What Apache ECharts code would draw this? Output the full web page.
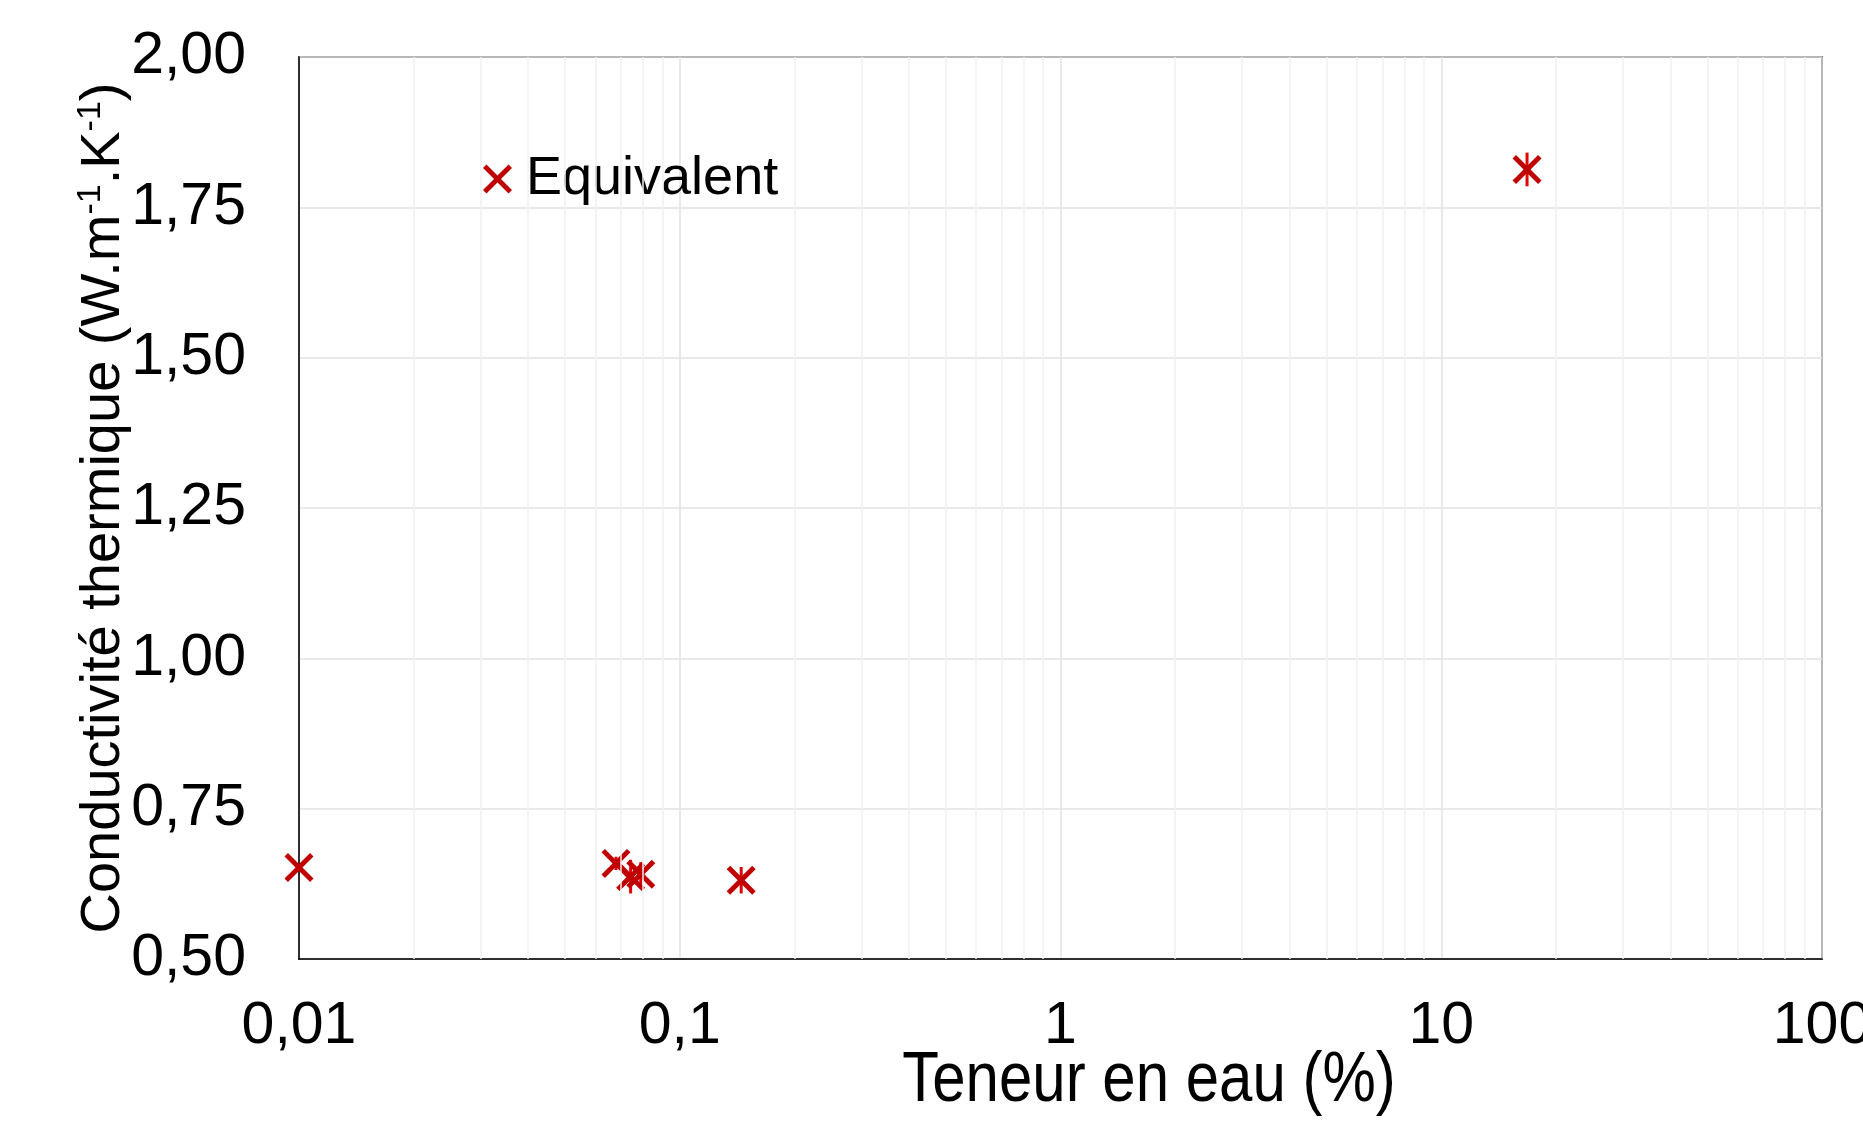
<!DOCTYPE html>
<html>
<head>
<meta charset="utf-8">
<script src="https://cdn.jsdelivr.net/npm/echarts@6/dist/echarts.min.js"></script>
<style>
  html, body { margin: 0; padding: 0; background: #fff; }
  #chart { width: 1863px; height: 1123px; }
</style>
</head>
<body>
<div id="chart"></div>
<script>
// measured points (water content %, thermal conductivity W/m/K)
const waterContent = [0.01, 0.068, 0.0743, 0.079, 0.145, 16.8]
const conductivity = [0.652, 0.659, 0.637, 0.641, 0.631, 1.813]
const conductivityErr = [0, 0.011, 0.028, 0.02, 0.022, 0.028]

const xTickLabels = ['0,01', '0,1', '1', '10', '100']
const yTickLabels = ['0,50', '0,75', '1,00', '1,25', '1,50', '1,75', '2,00']
const minorX = [
  0.02, 0.03, 0.04, 0.05, 0.06, 0.07, 0.08, 0.09,
  0.2, 0.3, 0.4, 0.5, 0.6, 0.7, 0.8, 0.9,
  2, 3, 4, 5, 6, 7, 8, 9,
  20, 30, 40, 50, 60, 70, 80, 90,
]

const RED = '#c00000'
const FONT = 'Liberation Sans, Arial, sans-serif'
const CROSS = 'path://M0,12 L12,0 L50,38 L88,0 L100,12 L62,50 L100,88 L88,100 L50,62 L12,100 L0,88 L38,50 Z'

const points = waterContent.map((x, i) => [x, conductivity[i]])
const errData = waterContent.map((x, i) => [x, conductivity[i], conductivityErr[i]])

const chart = echarts.init(document.getElementById('chart'))

chart.setOption({
  animation: false,
  backgroundColor: '#fff',
  grid: {
    left: 299, right: 41, top: 57, bottom: 164,
    containLabel: false, outerBoundsMode: 'none',
    show: true, borderColor: '#000', borderWidth: 1.5, backgroundColor: 'transparent',
  },
  legend: {
    left: 483, top: 149, padding: 0,
    itemWidth: 29, itemHeight: 29,
    data: [{ name: 'Equivalent', icon: CROSS }],
    textStyle: { fontFamily: FONT, fontSize: 54, color: '#000', lineHeight: 60, padding: [0, 0, 0, 9] },
  },
  xAxis: {
    type: 'log', logBase: 10, min: 0.01, max: 100,
    axisLine: { show: true, lineStyle: { color: '#000', width: 1.5 } },
    axisTick: { show: false },
    axisLabel: {
      fontFamily: FONT, fontSize: 59, color: '#000', margin: 38,
      formatter: (v) => xTickLabels[Math.round(Math.log10(v)) + 2],
    },
    splitLine: { show: true, lineStyle: { color: '#e2e2e2', width: 1.5 } },
  },
  yAxis: {
    type: 'value', min: 0.5, max: 2, interval: 0.25,
    axisLine: { show: true, lineStyle: { color: '#000', width: 1.5 } },
    axisTick: { show: false },
    axisLabel: {
      fontFamily: FONT, fontSize: 59, color: '#000', margin: 53,
      formatter: (v) => yTickLabels[Math.round((v - 0.5) / 0.25)],
    },
    splitLine: { show: true, lineStyle: { color: '#e2e2e2', width: 1.5 } },
  },
  graphic: [
    {
      type: 'text',
      x: 1149, y: 1081,
      scaleY: 1.18,
      style: {
        x: 0, y: 0, text: 'Teneur en eau (%)',
        font: '60px ' + FONT, fill: '#000', align: 'center', verticalAlign: 'middle',
      },
    },
    {
      type: 'text',
      rotation: Math.PI / 2,
      x: 104, y: 508,
      style: {
        x: 0, y: 0,
        text: 'Conductivité thermique (W.m{s|-1}.K{s|-1})',
        font: '56px ' + FONT, fill: '#000', align: 'center', verticalAlign: 'middle',
        rich: { s: { fontSize: 34, fontFamily: FONT, padding: [0, 0, 26, 0], verticalAlign: 'top' } },
      },
    },
  ],
  series: [
    {
      name: 'grid-minor',
      type: 'scatter',
      data: [],
      silent: true,
      z: 0,
      markLine: {
        silent: true, symbol: 'none', animation: false,
        label: { show: false },
        lineStyle: { color: '#f1f1f1', width: 1.5, type: 'solid' },
        data: minorX.map((v) => ({ xAxis: v })),
      },
    },
    {
      name: 'err',
      type: 'custom',
      data: errData,
      z: 3,
      silent: true,
      renderItem: (params, api) => {
        const x = api.value(0), y = api.value(1), e = api.value(2)
        if (!e) return null
        const a = api.coord([x, y - e])
        const b = api.coord([x, y + e])
        return {
          type: 'line',
          shape: { x1: a[0], y1: a[1], x2: b[0], y2: b[1] },
          style: { stroke: '#e00000', lineWidth: 3 },
        }
      },
    },
    {
      name: 'Equivalent',
      type: 'scatter',
      data: points,
      symbol: CROSS,
      symbolSize: 29,
      itemStyle: { color: RED, opacity: 1 },
      z: 4,
    },
  ],
})
</script>
</body>
</html>
